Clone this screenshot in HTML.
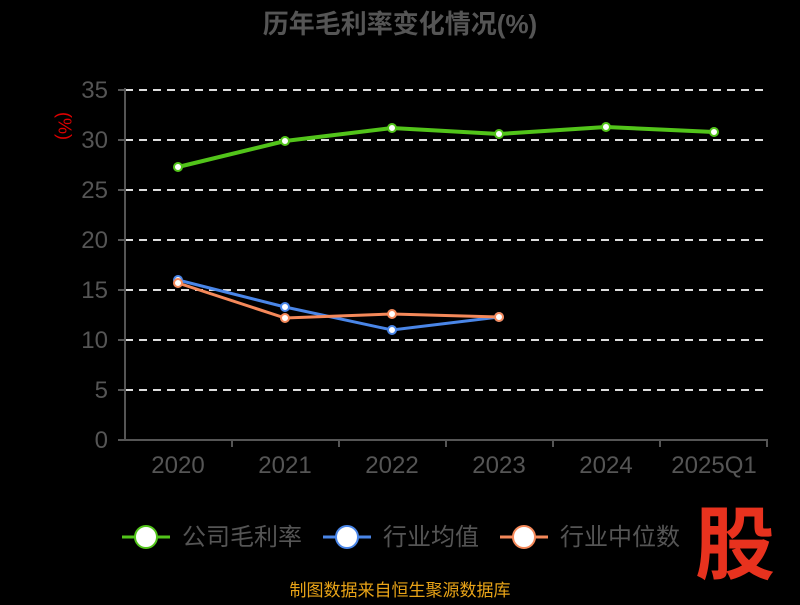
<!DOCTYPE html><html><head><meta charset="utf-8"><style>
body{margin:0;background:#000;width:800px;height:600px;overflow:hidden}
</style></head><body>
<svg width="800" height="600" xmlns="http://www.w3.org/2000/svg" font-family="Liberation Sans, Noto Sans CJK SC, sans-serif">
<rect width="800" height="600" fill="#000"/>
<text x="400" y="33" text-anchor="middle" font-size="26" font-weight="bold" fill="#555">历年毛利率变化情况(%)</text>
<text transform="translate(63,126) rotate(90)" text-anchor="middle" font-size="18" fill="#d00" dominant-baseline="middle">(%)</text>
<g stroke="#ddd" stroke-width="2" stroke-dasharray="8,6">
<line x1="125" y1="90" x2="768" y2="90"/><line x1="125" y1="140" x2="768" y2="140"/><line x1="125" y1="190" x2="768" y2="190"/><line x1="125" y1="240" x2="768" y2="240"/><line x1="125" y1="290" x2="768" y2="290"/><line x1="125" y1="340" x2="768" y2="340"/><line x1="125" y1="390" x2="768" y2="390"/>
</g>
<g stroke="#555" stroke-width="2">
<line x1="125" y1="88" x2="125" y2="441"/><line x1="124" y1="440" x2="768" y2="440"/>
<line x1="118" y1="90" x2="125" y2="90"/><line x1="118" y1="140" x2="125" y2="140"/><line x1="118" y1="190" x2="125" y2="190"/><line x1="118" y1="240" x2="125" y2="240"/><line x1="118" y1="290" x2="125" y2="290"/><line x1="118" y1="340" x2="125" y2="340"/><line x1="118" y1="390" x2="125" y2="390"/><line x1="118" y1="440" x2="125" y2="440"/>
<line x1="232" y1="440" x2="232" y2="447"/><line x1="339" y1="440" x2="339" y2="447"/><line x1="446" y1="440" x2="446" y2="447"/><line x1="553" y1="440" x2="553" y2="447"/><line x1="660" y1="440" x2="660" y2="447"/><line x1="767" y1="440" x2="767" y2="447"/>
</g>
<g font-size="24" fill="#555" text-anchor="end">
<text x="108" y="98">35</text><text x="108" y="148">30</text><text x="108" y="198">25</text><text x="108" y="248">20</text><text x="108" y="298">15</text><text x="108" y="348">10</text><text x="108" y="398">5</text><text x="108" y="448">0</text>
</g>
<g font-size="24" fill="#555" text-anchor="middle">
<text x="178" y="473">2020</text><text x="285" y="473">2021</text><text x="392" y="473">2022</text><text x="499" y="473">2023</text><text x="606" y="473">2024</text><text x="714" y="473">2025Q1</text>
</g>
<polyline points="178,167 285,141 392,128 499,134 606,127 714,132" fill="none" stroke="#52c41a" stroke-width="4"/>
<polyline points="178,280 285,307 392,330 499,317" fill="none" stroke="#4a86e8" stroke-width="3"/>
<polyline points="178,283 285,318 392,314 499,317" fill="none" stroke="#f5895a" stroke-width="3"/>
<g fill="#fff" stroke="#52c41a" stroke-width="2"><circle cx="178" cy="167" r="4"/><circle cx="285" cy="141" r="4"/><circle cx="392" cy="128" r="4"/><circle cx="499" cy="134" r="4"/><circle cx="606" cy="127" r="4"/><circle cx="714" cy="132" r="4"/></g>
<g fill="#fff" stroke="#4a86e8" stroke-width="2"><circle cx="178" cy="280" r="4"/><circle cx="285" cy="307" r="4"/><circle cx="392" cy="330" r="4"/><circle cx="499" cy="317" r="4"/></g>
<g fill="#fff" stroke="#f5895a" stroke-width="2"><circle cx="178" cy="283" r="4"/><circle cx="285" cy="318" r="4"/><circle cx="392" cy="314" r="4"/><circle cx="499" cy="317" r="4"/></g>
<g font-size="24" fill="#555">
<line x1="122" y1="537" x2="170" y2="537" stroke="#52c41a" stroke-width="3"/><circle cx="146" cy="537" r="11" fill="#fff" stroke="#52c41a" stroke-width="2"/><text x="182" y="545">公司毛利率</text>
<line x1="323" y1="537" x2="371" y2="537" stroke="#4a86e8" stroke-width="3"/><circle cx="347" cy="537" r="11" fill="#fff" stroke="#4a86e8" stroke-width="2"/><text x="383" y="545">行业均值</text>
<line x1="500" y1="537" x2="548" y2="537" stroke="#f5895a" stroke-width="3"/><circle cx="524" cy="537" r="11" fill="#fff" stroke="#f5895a" stroke-width="2"/><text x="560" y="545">行业中位数</text>
</g>
<text x="735" y="573" text-anchor="middle" font-size="80" font-weight="bold" fill="#e8321e">股</text>
<text x="400" y="596" text-anchor="middle" font-size="17" fill="#e8a317">制图数据来自恒生聚源数据库</text>
</svg>
</body></html>
